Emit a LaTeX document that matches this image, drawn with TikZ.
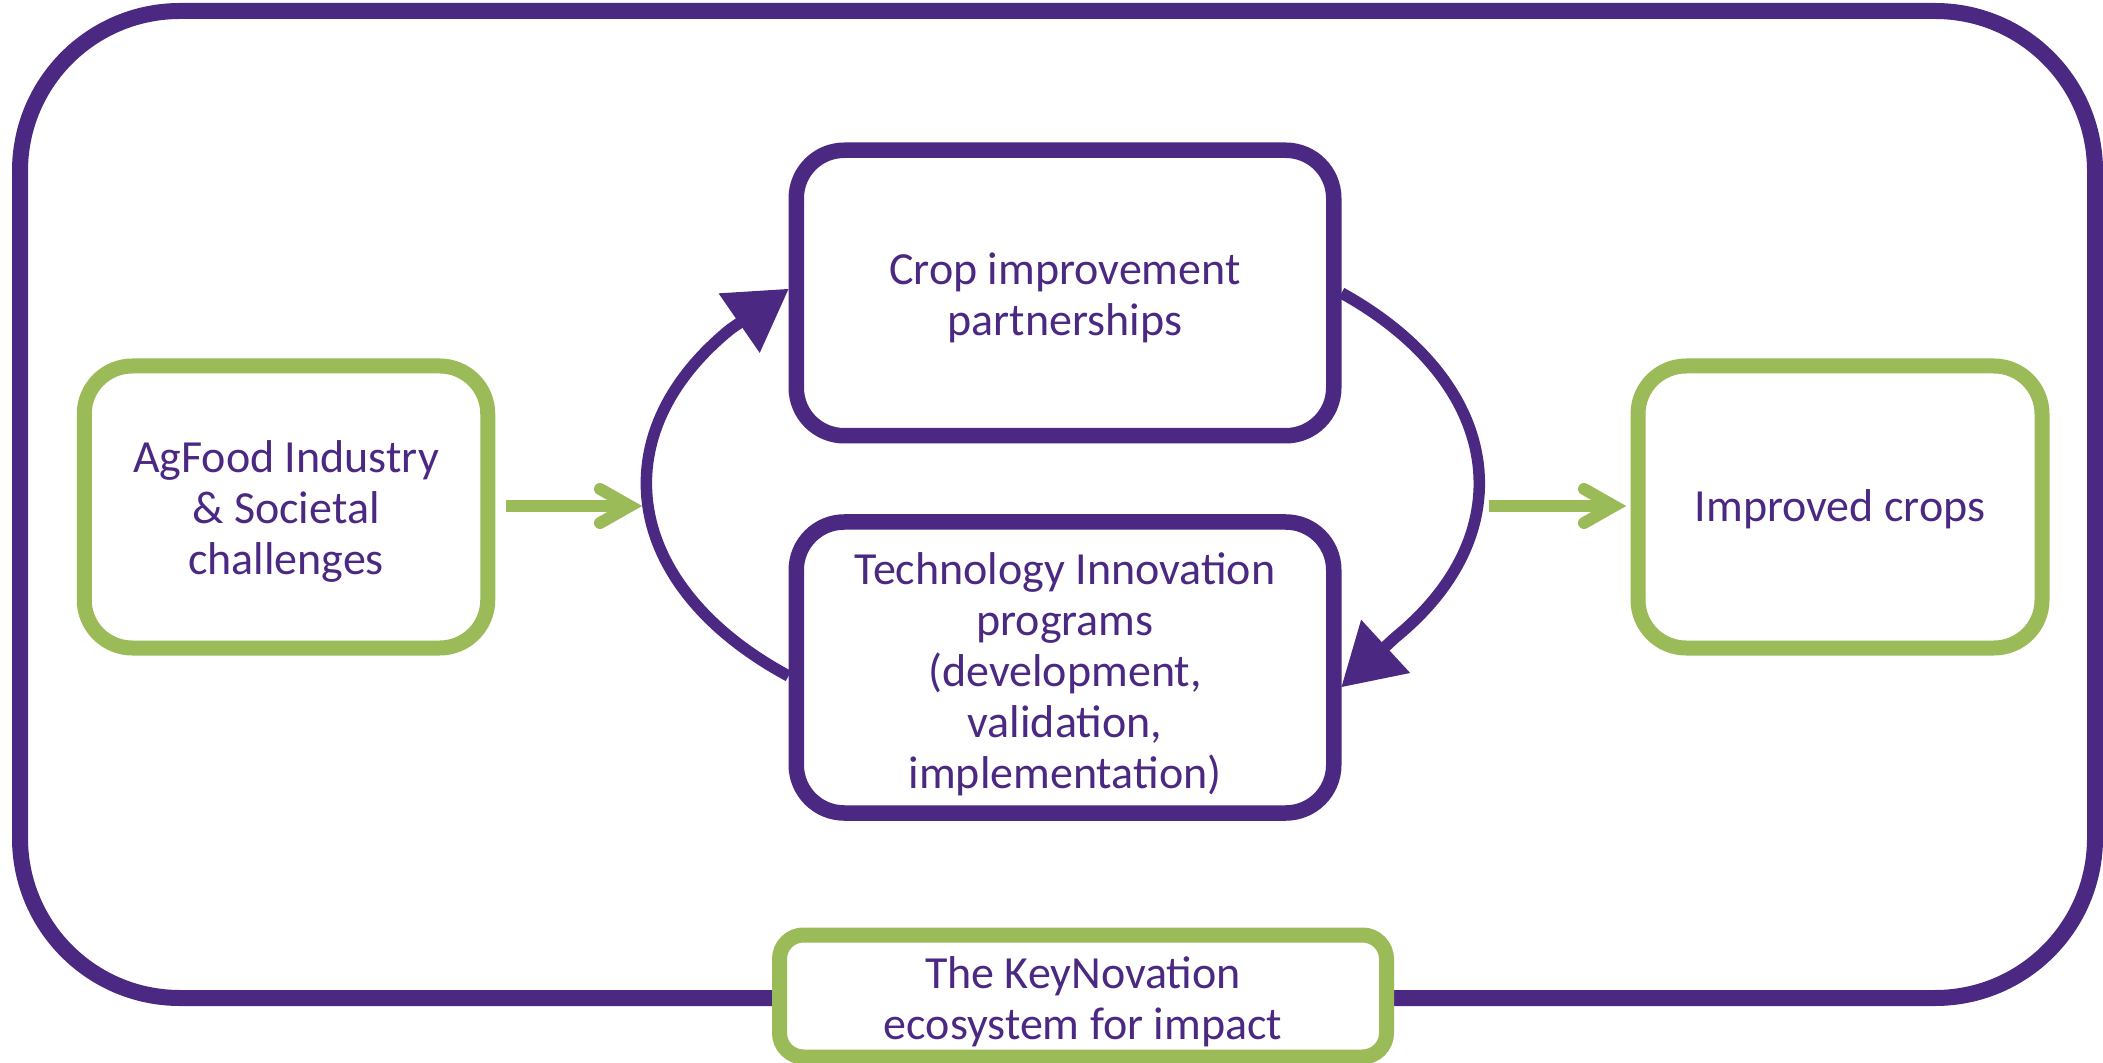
\documentclass[tikz,border=0pt]{standalone}
\usepackage{fontspec}
\setmainfont{Carlito}
\usetikzlibrary{arrows.meta}
\definecolor{kpurple}{RGB}{75,40,130}
\definecolor{kgreen}{RGB}{155,187,89}
\newcommand\labelfont{\fontsize{23pt}{25.5pt}\selectfont}
% invisible strut that sets the height of a first text line
\newcommand\toprule[1]{\rule{0pt}{#1}}
\begin{document}
\begin{tikzpicture}[x=0.5pt,y=-0.5pt,
  gbox/.style={draw=kgreen,line width=7.5pt,rounded corners=24pt,fill=white,
    text=kpurple,font=\labelfont,align=center,inner sep=0pt},
  pbox/.style={draw=kpurple,line width=7.75pt,rounded corners=24pt,fill=white,
    text=kpurple,font=\labelfont,align=center,inner sep=0pt},
  cyclearc/.style={draw=kpurple,line width=5.75pt,
    -{Triangle[length=30pt,width=36pt,line width=0.8pt]}},
  shaft/.style={draw=kgreen,line width=6pt},
  chevron/.style={draw=kgreen,line width=6pt,line cap=round,line join=miter}
]
\useasboundingbox (0,0) rectangle (2103,1063);

% ecosystem frame
\draw[kpurple,line width=8pt,rounded corners=80pt] (20,11) rectangle (2095,998);

% boxes
\node[gbox,minimum width=201.75pt,minimum height=141pt] (agfood) at (286,507)
  {\toprule{20pt}AgFood Industry\\\& Societal\\challenges};
\node[gbox,minimum width=202pt,minimum height=141pt] (crops) at (1840,507)
  {\toprule{18.7pt}Improved crops};
\node[pbox,minimum width=268.75pt,minimum height=142.75pt] (crop) at (1065,293)
  {\toprule{21pt}Crop improvement\\partnerships};
\node[pbox,minimum width=268.75pt,minimum height=145.5pt] (tech) at (1065,667.5)
  {\toprule{22.7pt}Technology Innovation\\programs\\(development,\\validation,\\implementation)};
\node[gbox,rounded corners=12pt,minimum width=303.5pt,minimum height=61pt] (eco) at (1083,996)
  {\toprule{22pt}The KeyNovation\\ecosystem for impact};

% innovation cycle: two halves of one ellipse, each ending in a large head
\draw[cyclearc] ([yshift=-4.25pt]tech.west)
  arc[start angle=228.8, end angle=143, x radius=208.25pt, y radius=128pt]
  -- ([yshift=2pt]crop.west);
\draw[cyclearc] (crop.east)
  arc[start angle=48, end angle=-37, x radius=208.25pt, y radius=128pt]
  -- ([yshift=-9.75pt]tech.east);

% input and output arrows
\coordinate (inL) at (630,506);
\coordinate (outR) at (1489,506);
\coordinate (inR) at ([xshift=-8.25pt,yshift=0.5pt]crops.west);
\draw[shaft] ([xshift=5.4pt,yshift=0.5pt]agfood.east) -- (inL);
\draw[chevron] ([shift={(-30,-17)}]inL) -- (inL) -- ([shift={(-30,17)}]inL);
\draw[shaft] (outR) -- (inR);
\draw[chevron] ([shift={(-30,-17)}]inR) -- (inR) -- ([shift={(-30,17)}]inR);
\end{tikzpicture}
\end{document}
